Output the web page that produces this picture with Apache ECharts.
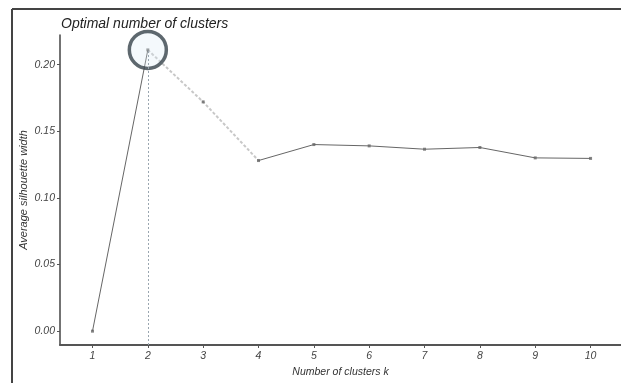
<!DOCTYPE html>
<html>
<head>
<meta charset="utf-8">
<script src="https://cdn.jsdelivr.net/npm/echarts@6/dist/echarts.min.js"></script>
<style>html,body{margin:0;padding:0;background:#fff;}#c{width:621px;height:383px;}</style>
</head>
<body>
<div id="c"></div>
<script>
var clustersK = [1, 2, 3, 4, 5, 6, 7, 8, 9, 10];
var silhouette = [0.000, 0.211, 0.172, 0.128, 0.140, 0.139, 0.1365, 0.1378, 0.130, 0.1296];
var yTicks = [0, 0.05, 0.10, 0.15, 0.20];
var optimalK = 2;

var solidPart = clustersK.map(function (k, i) { return [k, (k === 3) ? null : silhouette[i]]; });
var fadedPart = clustersK.map(function (k, i) { return [k, (k >= 2 && k <= 4) ? silhouette[i] : null]; });
var optIdx = clustersK.indexOf(optimalK);

var chart = echarts.init(document.getElementById('c'), null, {renderer: 'canvas'});
var font = 'Liberation Sans, Arial, sans-serif';
chart.setOption({
  backgroundColor: '#fff',
  animation: false,
  title: {
    text: 'Optimal number of clusters',
    left: 56, top: 12,
    textStyle: {fontFamily: font, fontStyle: 'italic', fontWeight: 'normal', fontSize: 14, color: '#222'}
  },
  grid: {left: 60, right: 0, top: 35, bottom: 34},
  xAxis: {
    type: 'value', min: 0.413, max: 10.55,
    name: 'Number of clusters k', nameLocation: 'middle', nameGap: 22,
    nameTextStyle: {fontFamily: font, fontStyle: 'italic', fontSize: 10.5, color: '#333'},
    axisLine: {onZero: false, lineStyle: {color: '#555', width: 2}},
    axisTick: {customValues: clustersK, length: 3, lineStyle: {color: '#555'}},
    axisLabel: {customValues: clustersK, fontFamily: font, fontStyle: 'italic', fontSize: 10.5, color: '#444', margin: 6},
    splitLine: {show: false}
  },
  yAxis: {
    type: 'value', min: -0.0104, max: 0.2222,
    name: 'Average silhouette width', nameLocation: 'middle', nameGap: 31, nameMoveOverlap: false,
    nameTextStyle: {fontFamily: font, fontStyle: 'italic', fontSize: 11, color: '#333'},
    axisLine: {show: true, onZero: false, lineStyle: {color: '#444', width: 1.5}},
    axisTick: {show: true, customValues: yTicks, length: 3, lineStyle: {color: '#555'}},
    axisLabel: {customValues: yTicks, fontFamily: font, fontStyle: 'italic', fontSize: 10.5, color: '#444', margin: 5,
      formatter: function (v) { return v.toFixed(2); }},
    splitLine: {show: false}
  },
  series: [
    {
      type: 'line', data: fadedPart, connectNulls: false,
      symbol: 'none',
      lineStyle: {color: '#c8c8c8', width: 2, type: [3, 2]},
      z: 1
    },
    {
      type: 'line', data: solidPart, connectNulls: false,
      symbol: 'none',
      lineStyle: {color: '#666', width: 1},
      markLine: {
        silent: true, symbol: 'none', label: {show: false},
        lineStyle: {color: '#9aa6b0', type: [2, 2], width: 1},
        data: [[{coord: [optimalK, -0.0104]}, {coord: [optimalK, silhouette[optIdx]]}]]
      },
      z: 2
    },
    {
      type: 'scatter',
      data: clustersK.map(function (k, i) { return [k, silhouette[i]]; }),
      symbol: 'rect', symbolSize: 3,
      itemStyle: {color: '#666'},
      z: 3
    },
    {
      type: 'scatter',
      data: [[optimalK, silhouette[optIdx]]],
      symbol: 'circle', symbolSize: 37,
      itemStyle: {color: 'rgba(215,232,245,0.35)', borderColor: '#36424a', borderWidth: 3.5},
      z: 4
    }
  ],
  graphic: [
    {type: 'line', shape: {x1: 12, y1: 9, x2: 12, y2: 383}, style: {stroke: '#444', lineWidth: 2}},
    {type: 'line', shape: {x1: 12, y1: 9, x2: 621, y2: 9}, style: {stroke: '#444', lineWidth: 2}}
  ]
});
</script>
</body>
</html>
